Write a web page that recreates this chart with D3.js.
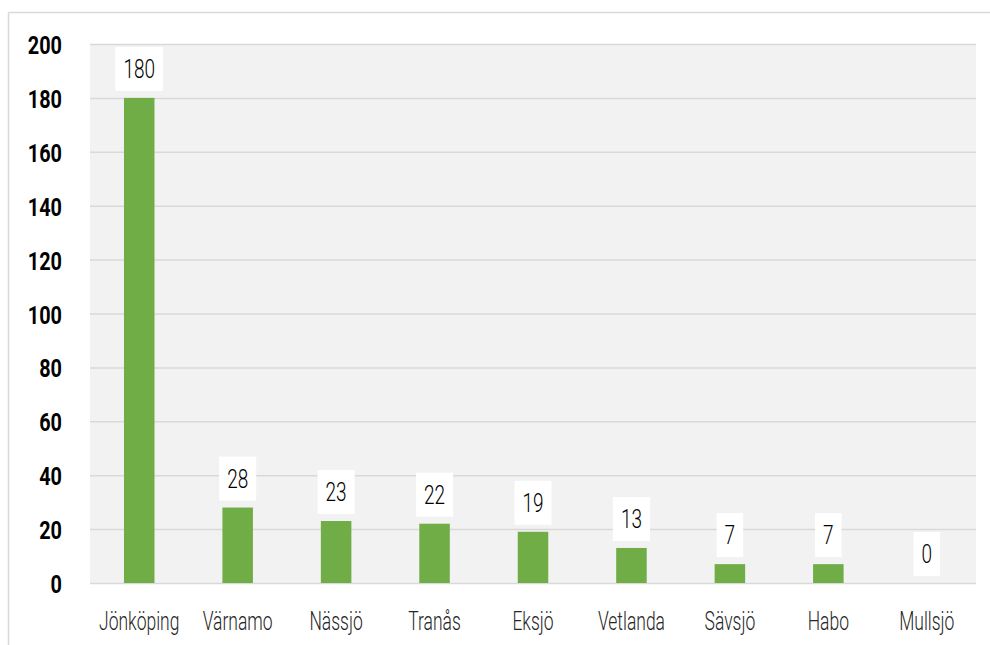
<!DOCTYPE html>
<html>
<head>
<meta charset="utf-8">
<script src="https://cdn.jsdelivr.net/npm/d3@7"></script>
<style>
  html, body { margin: 0; padding: 0; background: #ffffff; }
  svg { display: block; }
</style>
</head>
<body>
<svg id="chart" width="990" height="645"></svg>
<script>
const categories = ["Jönköping", "Värnamo", "Nässjö", "Tranås", "Eksjö", "Vetlanda", "Sävsjö", "Habo", "Mullsjö"];
const values = [180, 28, 23, 22, 19, 13, 7, 7, 0];
const yTicks = [0, 20, 40, 60, 80, 100, 120, 140, 160, 180, 200];

const svg = d3.select("#chart");
const W = 990, H = 645;
const plot = { left: 90, right: 976, top: 44, bottom: 583 };
const FONT = "Roboto, 'DejaVu Sans Condensed', sans-serif";
const GRID = "#d9d9d9";

// outer frame (left and top lines)
svg.append("line").attr("x1", 8.5).attr("x2", 8.5).attr("y1", 12.5).attr("y2", H)
  .attr("stroke", GRID).attr("stroke-width", 1.5);
svg.append("line").attr("x1", 8.5).attr("x2", W).attr("y1", 12.5).attr("y2", 12.5)
  .attr("stroke", GRID).attr("stroke-width", 1.5);

const x = d3.scaleBand().domain(categories).range([plot.left, plot.right]).paddingInner(0).paddingOuter(0);
const y = d3.scaleLinear().domain([0, 200]).range([plot.bottom, plot.top]);

// plot background
svg.append("rect").attr("x", plot.left).attr("y", plot.top)
  .attr("width", plot.right - plot.left).attr("height", plot.bottom - plot.top)
  .attr("fill", "#f2f2f2");

// gridlines
const grid = svg.append("g").attr("transform", `translate(${plot.left},0)`)
  .call(d3.axisLeft(y).tickValues(yTicks).tickSize(-(plot.right - plot.left)).tickFormat(""));
grid.select(".domain").remove();
grid.selectAll("line").attr("stroke", GRID).attr("stroke-width", 1.5);

// y tick labels
const yAxis = svg.append("g").attr("transform", `translate(62,0)`)
  .call(d3.axisLeft(y).tickValues(yTicks).tickSize(0).tickPadding(0));
yAxis.select(".domain").remove();
yAxis.selectAll("text")
  .attr("font-family", FONT).attr("font-weight", "bold").attr("font-size", 26.5)
  .attr("fill", "#000").attr("dy", "0.36em")
  .attr("transform", "scale(0.75,1)");

// bars
const barW = x.bandwidth() * 0.31;
svg.append("g").selectAll("rect").data(values).join("rect")
  .attr("x", (d, i) => x(categories[i]) + x.bandwidth() / 2 - barW / 2)
  .attr("y", d => y(d))
  .attr("width", barW)
  .attr("height", d => y(0) - y(d))
  .attr("fill", "#70ad47");

// x axis labels
const xAxis = svg.append("g").attr("transform", `translate(0,${plot.bottom})`)
  .call(d3.axisBottom(x).tickSize(0).tickPadding(0));
xAxis.select(".domain").remove();
xAxis.selectAll("text")
  .attr("font-family", FONT).attr("font-weight", 300).attr("font-size", 25)
  .attr("fill", "#262626").attr("y", 0).attr("dy", 0)
  .attr("transform", "translate(0,47) scale(0.7,1)");

// value labels with white boxes
const labels = svg.append("g").selectAll("g").data(values).join("g")
  .attr("transform", (d, i) => `translate(${x(categories[i]) + x.bandwidth() / 2},${y(d) - 7})`);
labels.each(function(d) {
  const g = d3.select(this);
  const rect = g.append("rect").attr("fill", "#ffffff");
  const t = g.append("text")
    .attr("font-family", FONT).attr("font-weight", 300).attr("font-size", 25).attr("fill", "#000")
    .attr("text-anchor", "middle")
    .attr("transform", "translate(0,-13) scale(0.76,1)")
    .text(d);
  const w = t.node().getComputedTextLength() * 0.76 + 16;
  rect.attr("x", -w / 2).attr("y", -44).attr("width", w).attr("height", 44);
});
</script>
</body>
</html>
